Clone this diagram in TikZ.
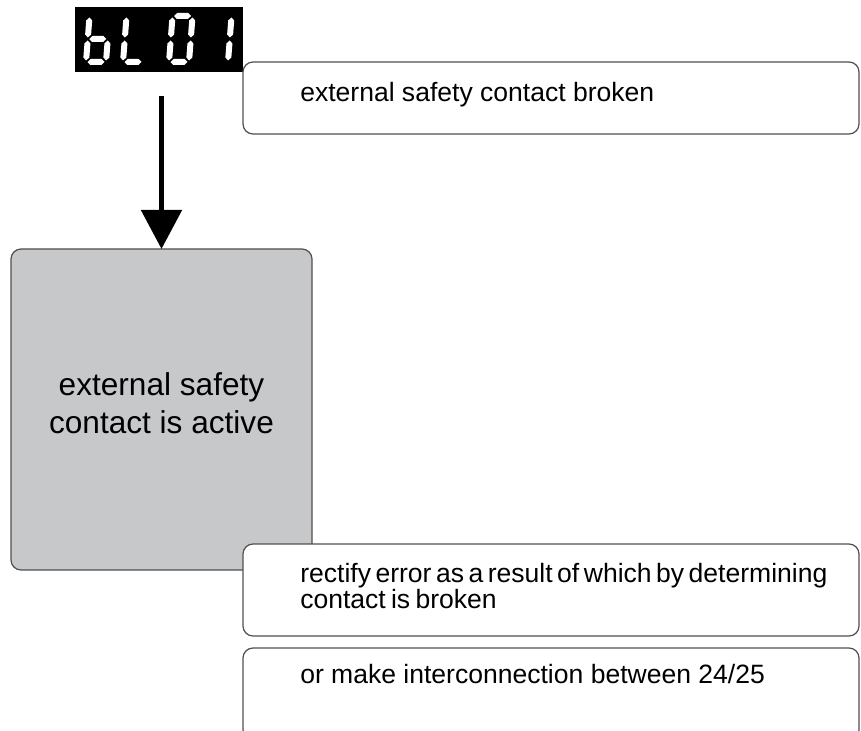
\documentclass[tikz,border=0pt]{standalone}
\usepackage{fontspec}
\setmainfont{Liberation Sans}
\usetikzlibrary{arrows.meta}
\definecolor{boxgray}{RGB}{199,200,202}
\definecolor{edgegray}{RGB}{80,80,80}
% seven-segment helpers (units: px, y downward)
\newcommand\dighseg[3]{\fill (#1,#3) -- (#1+3,#3-3) -- (#2-3,#3-3) -- (#2,#3) -- (#2-3,#3+3) -- (#1+3,#3+3) -- cycle;}
\newcommand\digvseg[3]{\fill (#1,#2) -- (#1+3,#2+3) -- (#1+3,#3-3) -- (#1,#3) -- (#1-3,#3-3) -- (#1-3,#2+3) -- cycle;}
\newcommand\sgA{\dighseg{1.5}{18.5}{-46}}
\newcommand\sgB{\digvseg{20}{-44.5}{-24.5}}
\newcommand\sgC{\digvseg{20}{-21.5}{-1.5}}
\newcommand\sgD{\dighseg{1.5}{18.5}{0}}
\newcommand\sgE{\digvseg{0}{-21.5}{-1.5}}
\newcommand\sgF{\digvseg{0}{-44.5}{-24.5}}
\newcommand\sgG{\dighseg{1.5}{18.5}{-23}}
\tikzset{
  panel/.style={draw=edgegray, line width=0.9pt, rounded corners=7.5pt,
    inner sep=0pt, outer sep=0pt, fill=white},
  smalltext/.style={inner sep=0pt, anchor=base west,
    font=\fontsize{19.9pt}{23pt}\selectfont},
  bigtext/.style={inner sep=0pt, anchor=base,
    font=\fontsize{23.7pt}{27pt}\selectfont},
  digitscope/.style={fill=white, xslant=0.077},
  flowarrow/.style={line width=3.75pt, -{Triangle[width=30pt,length=29.25pt]}}
}
\begin{document}
\begin{tikzpicture}[x=0.75pt,y=-0.75pt]
\path[use as bounding box] (0,0) rectangle (861,731);
\clip (0,0) rectangle (861,731);

% gray state box
\node[panel, fill=boxgray, rounded corners=7.5pt,
  minimum width=225.75pt, minimum height=240.75pt] (state) at (161.5,409.5) {};
\node[bigtext] (stateA) at (161.5,395) {external safety};
\node[bigtext] (stateB) at (161.5,433) {contact is active};

% display
\node[fill=black, inner sep=0pt, outer sep=0pt,
  minimum width=126pt, minimum height=48.75pt] (disp) at (159,39.5) {};
\begin{scope}[shift={(86,62)}, digitscope] \sgC \sgD \sgE \sgF \sgG \end{scope}
\begin{scope}[shift={(123,62)}, digitscope] \sgD \sgE \sgF \end{scope}
\begin{scope}[shift={(169,62)}, digitscope] \sgA \sgB \sgC \sgD \sgE \sgF \end{scope}
\begin{scope}[shift={(208,62)}, digitscope] \sgB \sgC \end{scope}

% top message box
\node[panel, minimum width=462pt, minimum height=54pt] (msg) at (551,98) {};
\node[smalltext] (msgT) at (300,102) {external safety contact broken};

% arrow
\draw[flowarrow, shorten <=18pt] (disp.south -| state.north) -- (state.north);

% remedy boxes
\node[panel, minimum width=462pt, minimum height=69pt] (fixA) at (551,590) {};
\node[smalltext] (fixA1) at (300,582) {\spaceskip=0.17em\relax rectify error as a result of which by determining};
\node[smalltext] (fixA2) at (300,608) {\spaceskip=0.2em\relax contact is broken};

\node[panel, minimum width=462pt, minimum height=69pt] (fixB) at (551,694) {};
\node[smalltext] (fixB1) at (300,683) {or make interconnection between 24/25};
\end{tikzpicture}
\end{document}
